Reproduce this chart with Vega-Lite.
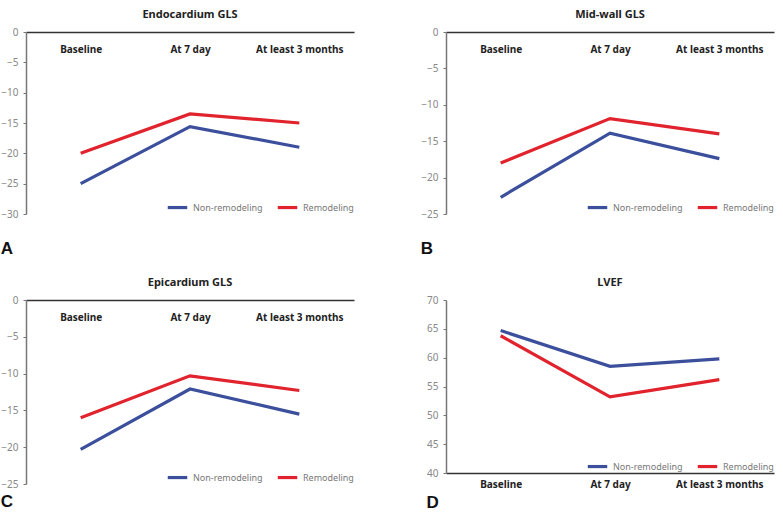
{
  "$schema": "https://vega.github.io/schema/vega-lite/v6.json",
  "padding": {"left": 0, "top": 9, "right": 4, "bottom": 2},
  "background": "white",
  "data": {"values": [
    {"panel": "A", "time": "Baseline", "group": "Non-remodeling", "value": -25.0},
    {"panel": "A", "time": "At 7 day", "group": "Non-remodeling", "value": -15.6},
    {"panel": "A", "time": "At least 3 months", "group": "Non-remodeling", "value": -19.0},
    {"panel": "A", "time": "Baseline", "group": "Remodeling", "value": -20.0},
    {"panel": "A", "time": "At 7 day", "group": "Remodeling", "value": -13.5},
    {"panel": "A", "time": "At least 3 months", "group": "Remodeling", "value": -15.0},
    {"panel": "B", "time": "Baseline", "group": "Non-remodeling", "value": -22.7},
    {"panel": "B", "time": "At 7 day", "group": "Non-remodeling", "value": -13.9},
    {"panel": "B", "time": "At least 3 months", "group": "Non-remodeling", "value": -17.4},
    {"panel": "B", "time": "Baseline", "group": "Remodeling", "value": -18.0},
    {"panel": "B", "time": "At 7 day", "group": "Remodeling", "value": -11.9},
    {"panel": "B", "time": "At least 3 months", "group": "Remodeling", "value": -14.0},
    {"panel": "C", "time": "Baseline", "group": "Non-remodeling", "value": -20.3},
    {"panel": "C", "time": "At 7 day", "group": "Non-remodeling", "value": -12.1},
    {"panel": "C", "time": "At least 3 months", "group": "Non-remodeling", "value": -15.5},
    {"panel": "C", "time": "Baseline", "group": "Remodeling", "value": -16.0},
    {"panel": "C", "time": "At 7 day", "group": "Remodeling", "value": -10.3},
    {"panel": "C", "time": "At least 3 months", "group": "Remodeling", "value": -12.3},
    {"panel": "D", "time": "Baseline", "group": "Non-remodeling", "value": 64.7},
    {"panel": "D", "time": "At 7 day", "group": "Non-remodeling", "value": 58.5},
    {"panel": "D", "time": "At least 3 months", "group": "Non-remodeling", "value": 59.8},
    {"panel": "D", "time": "Baseline", "group": "Remodeling", "value": 63.8},
    {"panel": "D", "time": "At 7 day", "group": "Remodeling", "value": 53.2},
    {"panel": "D", "time": "At least 3 months", "group": "Remodeling", "value": 56.2}
  ]},
  "config": {
    "view": {"stroke": null},
    "font": "Noto Sans",
    "title": {"font": "Noto Sans", "fontSize": 11, "fontWeight": "bold", "color": "#222", "offset": 7},
    "axisY": {"grid": false, "title": null, "labelColor": "#888", "labelFontSize": 10, "labelFont": "Noto Sans", "tickColor": "#777", "tickSize": 3, "domainColor": "#777", "domainWidth": 1.5, "labelPadding": 5},
    "axisX": {"grid": false, "title": null, "labelAngle": 0, "labelColor": "#222", "labelFontSize": 10, "labelFontWeight": "bold", "labelFont": "Noto Sans", "domainColor": "#333", "domainWidth": 1.5, "ticks": false, "tickSize": 0},
    "legend": {"orient": "bottom-right", "direction": "horizontal", "title": null, "symbolType": "stroke", "symbolSize": 380, "symbolStrokeWidth": 3.5, "labelColor": "#777", "labelFontSize": 9, "labelFont": "Noto Sans", "labelOffset": 4, "columnPadding": 8, "padding": 0, "offset": 0},
    "line": {"strokeWidth": 3.2}
  },
  "columns": 2,
  "spacing": {"row": 20, "column": 66},
  "concat": [
    {
      "title": {"text": "A", "orient": "bottom", "anchor": "start", "fontSize": 17, "fontWeight": "bold", "color": "#111", "offset": 22, "font": "Liberation Sans"},
      "resolve": {"scale": {"color": "independent"}, "legend": {"color": "independent"}},
      "vconcat": [{
        "title": "Endocardium GLS",
        "width": 328, "height": 182,
        "transform": [{"filter": "datum.panel === 'A'"}],
        "mark": "line",
        "encoding": {
          "x": {"field": "time", "type": "ordinal", "sort": ["Baseline", "At 7 day", "At least 3 months"], "scale": {"type": "point", "padding": 0.5}, "axis": {"orient": "top", "labelPadding": -17, "labelBaseline": "middle"}},
          "y": {"field": "value", "type": "quantitative", "scale": {"domain": [-30, 0], "nice": false}, "axis": {"values": [0, -5, -10, -15, -20, -25, -30]}},
          "color": {"field": "group", "type": "nominal", "scale": {"domain": ["Non-remodeling", "Remodeling"], "range": ["#3b4f9c", "#e1232d"]}}
        }
      }]
    },
    {
      "title": {"text": "B", "orient": "bottom", "anchor": "start", "fontSize": 17, "fontWeight": "bold", "color": "#111", "offset": 22, "font": "Liberation Sans"},
      "resolve": {"scale": {"color": "independent"}, "legend": {"color": "independent"}},
      "vconcat": [{
        "title": "Mid-wall GLS",
        "width": 328, "height": 182,
        "transform": [{"filter": "datum.panel === 'B'"}],
        "mark": "line",
        "encoding": {
          "x": {"field": "time", "type": "ordinal", "sort": ["Baseline", "At 7 day", "At least 3 months"], "scale": {"type": "point", "padding": 0.5}, "axis": {"orient": "top", "labelPadding": -17, "labelBaseline": "middle"}},
          "y": {"field": "value", "type": "quantitative", "scale": {"domain": [-25, 0], "nice": false}, "axis": {"values": [0, -5, -10, -15, -20, -25]}},
          "color": {"field": "group", "type": "nominal", "scale": {"domain": ["Non-remodeling", "Remodeling"], "range": ["#3b4f9c", "#e1232d"]}}
        }
      }]
    },
    {
      "title": {"text": "C", "orient": "bottom", "anchor": "start", "fontSize": 17, "fontWeight": "bold", "color": "#111", "offset": 5, "font": "Liberation Sans"},
      "resolve": {"scale": {"color": "independent"}, "legend": {"color": "independent"}},
      "vconcat": [{
        "title": "Epicardium GLS",
        "width": 328, "height": 184,
        "transform": [{"filter": "datum.panel === 'C'"}],
        "mark": "line",
        "encoding": {
          "x": {"field": "time", "type": "ordinal", "sort": ["Baseline", "At 7 day", "At least 3 months"], "scale": {"type": "point", "padding": 0.5}, "axis": {"orient": "top", "labelPadding": -17, "labelBaseline": "middle"}},
          "y": {"field": "value", "type": "quantitative", "scale": {"domain": [-25, 0], "nice": false}, "axis": {"values": [0, -5, -10, -15, -20, -25]}},
          "color": {"field": "group", "type": "nominal", "scale": {"domain": ["Non-remodeling", "Remodeling"], "range": ["#3b4f9c", "#e1232d"]}}
        }
      }]
    },
    {
      "title": {"text": "D", "orient": "bottom", "anchor": "start", "fontSize": 17, "fontWeight": "bold", "color": "#111", "offset": 6, "font": "Liberation Sans"},
      "resolve": {"scale": {"color": "independent"}, "legend": {"color": "independent"}},
      "vconcat": [{
        "title": "LVEF",
        "width": 328, "height": 173,
        "transform": [{"filter": "datum.panel === 'D'"}],
        "mark": "line",
        "encoding": {
          "x": {"field": "time", "type": "ordinal", "sort": ["Baseline", "At 7 day", "At least 3 months"], "scale": {"type": "point", "padding": 0.5}, "axis": {"orient": "bottom", "labelPadding": 6}},
          "y": {"field": "value", "type": "quantitative", "scale": {"domain": [40, 70], "nice": false}, "axis": {"values": [40, 45, 50, 55, 60, 65, 70]}},
          "color": {"field": "group", "type": "nominal", "scale": {"domain": ["Non-remodeling", "Remodeling"], "range": ["#3b4f9c", "#e1232d"]}}
        }
      }]
    }
  ],
  "resolve": {"scale": {"color": "independent"}, "legend": {"color": "independent"}}
}
